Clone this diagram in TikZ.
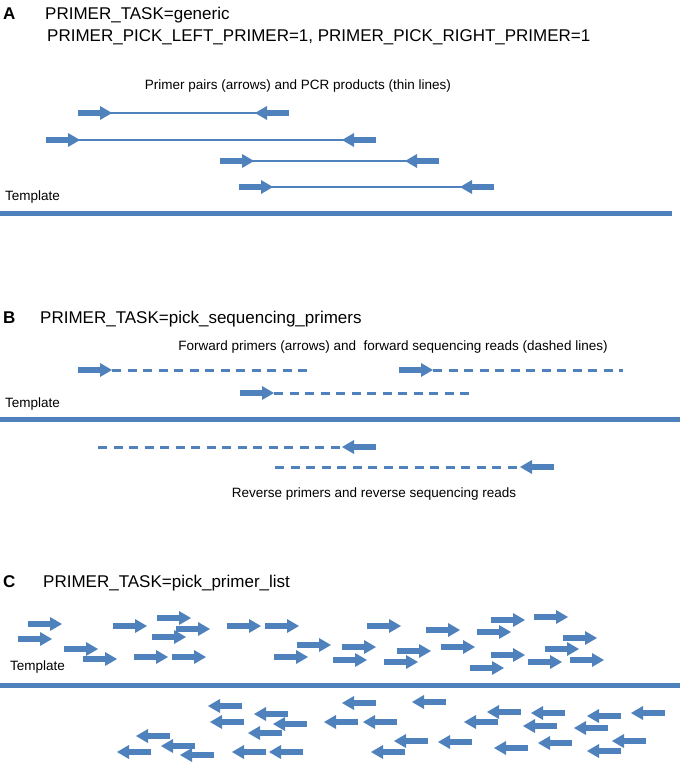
\documentclass[tikz,border=0pt]{standalone}
\usepackage{fontspec}
\setmainfont{Liberation Sans}
\usetikzlibrary{arrows.meta}
\definecolor{primerblue}{RGB}{79,129,189}
\newcommand{\taskfont}{\fontsize{17}{20}\selectfont}
\newcommand{\notefont}{\fontsize{13.5}{16}\selectfont}

\begin{document}
\begin{tikzpicture}[x=1pt,y=-1pt,
  primer/.style={primerblue,line width=5.5pt,-{Triangle[length=12pt,width=14pt,line width=0pt]}},
  product/.style={primerblue,line width=2.5pt},
  seqread/.style={primerblue,line width=3pt,dash pattern=on 9pt off 6.5pt},
  template/.style={primerblue,line width=5pt},
  task/.style={anchor=base west,inner sep=0pt,font=\taskfont},
  panel/.style={anchor=base west,inner sep=0pt,font=\taskfont\bfseries},
  note/.style={anchor=base,inner sep=0pt,font=\notefont},
  tmpl/.style={anchor=base west,inner sep=0pt,font=\notefont}]
  \useasboundingbox (0,0) rectangle (680,762);

  % A: primer pairs
  \node[panel] (labA) at (3,20) {A};
  \node[task] (taskA) at (45,20) {PRIMER\_TASK=generic};
  \node[task] (pickA) at (47,42) {PRIMER\_PICK\_LEFT\_PRIMER=1, PRIMER\_PICK\_RIGHT\_PRIMER=1};
  \node[note] (noteA) at (298,90) {Primer pairs (arrows) and PCR products (thin lines)};
  \node[tmpl] (tmplA) at (5,200) {Template};
  \draw[template] (0,213) -- (672,213);
  \foreach \l/\r/\y in {78/289/113,46/376/140,220/439/161,239/494/187} {
    \draw[product] (\l+30,\y) -- (\r-30,\y);
    \draw[primer] (\l,\y) -- (\l+34,\y);
    \draw[primer] (\r,\y) -- (\r-34,\y);
  }

  % B: sequencing primers
  \node[panel] (labB) at (3,323) {B};
  \node[task] (taskB) at (40,323) {PRIMER\_TASK=pick\_sequencing\_primers};
  \node[note] (noteB) at (393,350) {Forward primers (arrows) and \ forward sequencing reads (dashed lines)};
  \node[tmpl] (tmplB) at (5,407) {Template};
  \draw[template] (0,419) -- (680,419);
  \foreach \l/\r/\y in {78/310/370,399/623/370,240/471/393} {
    \draw[seqread] (\l+34,\y) -- (\r,\y);
    \draw[primer] (\l,\y) -- (\l+34,\y);
  }
  \foreach \l/\r/\y in {98/376/447,275/554/467} {
    \draw[seqread] (\l,\y) -- (\r-34,\y);
    \draw[primer] (\r,\y) -- (\r-34,\y);
  }
  \node[note] (revB) at (374,497) {Reverse primers and reverse sequencing reads};

  % C: primer list
  \node[panel] (labC) at (3,587) {C};
  \node[task] (taskC) at (43,587) {PRIMER\_TASK=pick\_primer\_list};
  \node[tmpl] (tmplC) at (10,670) {Template};
  \draw[template] (0,685) -- (680,685);
  \foreach \x/\y in {28/624,18/639,64/649,83/659,113/626,134/657,157/618,152/637,
    176/629,172/657,227/626,265/626,297/645,274/657,333/660,342/647,367/626,
    426/630,491/620,534/617,477/632,563/638,441/647,397/651,384/662,470/668,
    491/655,545/649,528/662,570/660}
    \draw[primer] (\x,\y) -- (\x+34,\y);
  \foreach \x/\y in {208/706,210/722,254/714,273/724,248/733,136/736,161/746,
    117/752,180/755,232/752,269/752,324/722,342/703,412/702,363/722,487/712,
    464/722,531/713,523/726,587/716,631/713,574/728,394/741,438/742,371/752,
    494/748,538/743,612/741,587/751}
    \draw[primer] (\x+34,\y) -- (\x,\y);
\end{tikzpicture}
\end{document}
